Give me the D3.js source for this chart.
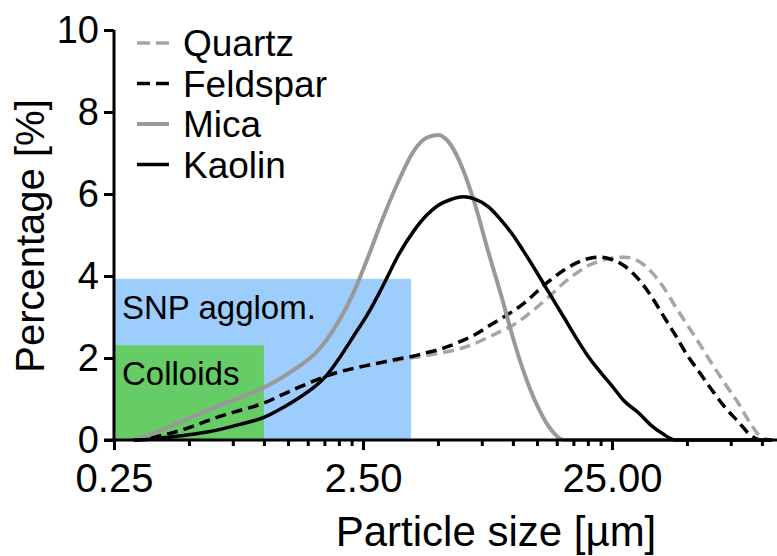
<!DOCTYPE html>
<html>
<head>
<meta charset="utf-8">
<script src="https://cdn.jsdelivr.net/npm/d3@7"></script>
<style>
  html, body { margin: 0; padding: 0; background: #fff; }
  svg { display: block; font-family: "Liberation Sans", Arial, Helvetica, sans-serif; }
</style>
</head>
<body>
<svg id="chart" width="777" height="556"></svg>
<script>
// Particle size grid (µm) shared by all four distributions
const sizes = [0.3, 0.35, 0.4, 0.5, 0.6, 0.7, 0.8, 1.0, 1.2, 1.4, 1.6, 1.8, 2.0, 2.3, 2.6, 3.0, 3.5,
  4.0, 4.5, 5.0, 5.6, 6.3, 7.0, 8.0, 9.0, 10, 11, 12.5, 14, 16, 18, 20, 22.5, 25, 28, 32, 36,
  40, 45, 50, 56, 63, 71, 80, 90, 100, 110];

// Volume percentage per size class
const quartz = [0, 0.05, 0.13, 0.3, 0.48, 0.62, 0.72, 0.9, 1.12, 1.3, 1.45, 1.57, 1.66, 1.75, 1.81, 1.88, 1.95,
  2.01, 2.06, 2.11, 2.17, 2.25, 2.35, 2.51, 2.66, 2.8, 2.97, 3.24, 3.5, 3.83, 4.07, 4.25, 4.37, 4.44, 4.46, 4.36, 4.1,
  3.75, 3.25, 2.82, 2.36, 1.86, 1.38, 0.92, 0.4, 0.06, 0];
const feldspar = [0, 0.05, 0.13, 0.3, 0.48, 0.62, 0.72, 0.9, 1.12, 1.3, 1.45, 1.57, 1.66, 1.75, 1.82, 1.9, 1.98,
  2.05, 2.13, 2.2, 2.3, 2.43, 2.56, 2.78, 2.97, 3.14, 3.32, 3.62, 3.88, 4.14, 4.32, 4.42, 4.46, 4.4, 4.25, 3.92, 3.5,
  3.05, 2.55, 2.08, 1.66, 1.22, 0.8, 0.46, 0.12, 0, 0];
const mica = [0, 0.13, 0.28, 0.53, 0.73, 0.9, 1.03, 1.28, 1.55, 1.82, 2.1, 2.47, 2.9, 3.62, 4.41, 5.4, 6.36,
  7.05, 7.37, 7.44, 7.22, 6.6, 5.8, 4.55, 3.5, 2.5, 1.7, 0.85, 0.31, 0, 0, 0, 0, 0, 0, 0, 0,
  0, 0, 0, 0, 0, 0, 0, 0, 0, 0];
const kaolin = [0, 0.02, 0.06, 0.13, 0.2, 0.29, 0.38, 0.55, 0.8, 1.05, 1.3, 1.6, 1.98, 2.55, 3.05, 3.75, 4.55,
  5.1, 5.48, 5.72, 5.86, 5.93, 5.88, 5.68, 5.35, 5.0, 4.62, 4.08, 3.58, 3.0, 2.48, 2.05, 1.65, 1.32, 0.95, 0.66, 0.35,
  0.15, 0, 0, 0, 0, 0, 0, 0, 0, 0];

const seriesNames = ["Quartz", "Feldspar", "Mica", "Kaolin"];
const seriesValues = [quartz, feldspar, mica, kaolin];

// Size-range bands: label, upper size (µm), height (%)
const bandLabels = ["SNP agglom.", "Colloids"];
const bandUpper = [3.9, 1.0];
const bandHeight = [3.93, 2.31];

const xMajorTicks = [0.25, 2.5, 25];
const xMinorTicks = [0.5, 0.75, 1, 1.25, 1.5, 1.75, 2, 2.25, 5, 7.5, 10, 12.5, 15, 17.5, 20, 22.5, 50, 75, 100];
const yTicks = [0, 2, 4, 6, 8, 10];

const svg = d3.select("#chart");

const x = d3.scaleLog().domain([0.25, 115]).range([114, 777]);
const y = d3.scaleLinear().domain([0, 10]).range([440, 30]);

const styles = {
  Quartz:   { color: "#a6a6a6", dash: "11,6", width: 3.5 },
  Feldspar: { color: "#000000", dash: "11,6", width: 3.5 },
  Mica:     { color: "#999999", dash: null,   width: 4 },
  Kaolin:   { color: "#000000", dash: null,   width: 3.5 }
};
const bandColors = ["#9ccdfd", "#66cc66"];

// Size-range bands
const bands = bandLabels.map((l, i) => ({ label: l, upper: bandUpper[i], h: bandHeight[i], color: bandColors[i] }));
svg.append("g").selectAll("rect").data(bands).join("rect")
  .attr("x", x(0.25))
  .attr("y", d => y(d.h))
  .attr("width", d => x(d.upper) - x(0.25))
  .attr("height", d => y(0) - y(d.h))
  .attr("fill", d => d.color);

svg.append("g").selectAll("text").data(bands).join("text")
  .attr("x", x(0.25) + 8)
  .attr("y", d => y(d.h) + 40)
  .attr("font-size", 33)
  .attr("fill", "#000")
  .text(d => d.label);

// Distribution curves
const line = d3.line()
  .x(d => x(d[0]))
  .y(d => y(d[1]))
  .curve(d3.curveMonotoneX);

const curvesG = svg.append("g");
seriesNames.forEach((name, i) => {
  const pts = sizes.map((s, j) => [s, seriesValues[i][j]]);
  const st = styles[name];
  curvesG.append("path")
    .datum(pts)
    .attr("d", line)
    .attr("fill", "none")
    .attr("stroke", st.color)
    .attr("stroke-width", st.width)
    .attr("stroke-dasharray", st.dash)
    .attr("stroke-linejoin", "round");
});

// Axes
const fmt = d3.format(".2f");
const xAxisMinor = svg.append("g")
  .attr("transform", `translate(0,${y(0)})`)
  .call(d3.axisBottom(x).tickValues(xMinorTicks).tickSize(6).tickFormat(""));
const xAxisMajor = svg.append("g")
  .attr("transform", `translate(0,${y(0)})`)
  .call(d3.axisBottom(x).tickValues(xMajorTicks).tickSize(10).tickPadding(14).tickFormat(fmt));
[xAxisMinor, xAxisMajor].forEach(g => {
  g.select(".domain").remove();
  g.selectAll(".tick line").attr("stroke", "#000").attr("stroke-width", 3);
});
xAxisMajor.selectAll("text").attr("font-size", 40).attr("fill", "#000").attr("font-family", "Liberation Sans, Arial, sans-serif");
svg.append("line")
  .attr("x1", 104).attr("x2", 777)
  .attr("y1", y(0)).attr("y2", y(0))
  .attr("stroke", "#000").attr("stroke-width", 3);

const yAxis = svg.append("g")
  .attr("transform", `translate(${x(0.25)},0)`)
  .call(d3.axisLeft(y).tickValues(yTicks).tickSize(10).tickPadding(5).tickFormat(d3.format("d")));
yAxis.select(".domain").attr("stroke", "#000").attr("stroke-width", 3)
  .attr("d", `M0,${y(10)}V${y(0)}`);
yAxis.selectAll(".tick line").attr("stroke", "#000").attr("stroke-width", 3);
yAxis.selectAll("text").attr("font-size", 38).attr("fill", "#000").attr("font-family", "Liberation Sans, Arial, sans-serif");

// Axis titles
svg.append("text")
  .attr("x", 496).attr("y", 546)
  .attr("text-anchor", "middle")
  .attr("font-size", 42)
  .text("Particle size [µm]");
svg.append("text")
  .attr("transform", "translate(44,236) rotate(-90)")
  .attr("text-anchor", "middle")
  .attr("font-size", 40)
  .text("Percentage [%]");

// Legend
const legend = svg.append("g");
seriesNames.forEach((name, i) => {
  const st = styles[name];
  const cy = 43 + i * 40.5;
  legend.append("line")
    .attr("x1", 137).attr("x2", 169)
    .attr("y1", cy).attr("y2", cy)
    .attr("stroke", st.color)
    .attr("stroke-width", st.width)
    .attr("stroke-dasharray", st.dash ? "13,6" : null);
  legend.append("text")
    .attr("x", 183).attr("y", cy + 13)
    .attr("font-size", 37)
    .text(name);
});
</script>
</body>
</html>
